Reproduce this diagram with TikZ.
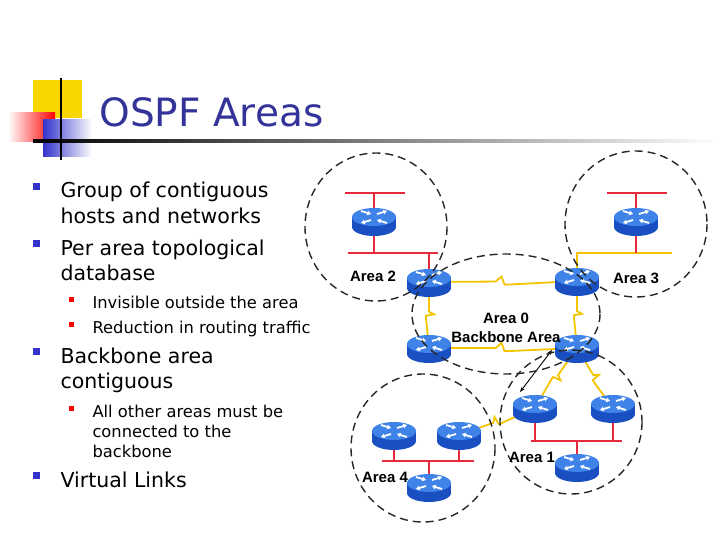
\documentclass[tikz,border=0pt]{standalone}
\usepackage{fontspec}
\setmainfont{DejaVu Sans}
\newfontfamily\arial{Liberation Sans}
\usetikzlibrary{
	positioning,  % posizionamento relativo
	arrows.meta,  % punte di freccia
	calc          % coordinate calcolate
}
\definecolor{titolo}{HTML}{333399}
\definecolor{puntoblu}{HTML}{3333CC}
\definecolor{giallo}{HTML}{F5C400}
\definecolor{rosso}{HTML}{E8283C}
\definecolor{bluchiaro}{HTML}{3F83E8}
\definecolor{bluscuro}{HTML}{1A4FC2}

\begin{document}
\begin{tikzpicture}[
	x=1pt, y=-1pt,
	voce/.style={anchor=base west, font=\fontsize{20.5}{20.5}\selectfont},
	sottovoce/.style={anchor=base west, font=\fontsize{16.3}{16.3}\selectfont},
	area/.style={font=\arial\bfseries\fontsize{15}{15}\selectfont},
	lan/.style={rosso, line width=1.6pt},
	seriale/.style={giallo, line width=1.8pt},
	zig/.style={seriale, to path={
		-- ($(\tikztostart)!0.45!(\tikztotarget)$)
		-- ($(\tikztostart)!0.49!(\tikztotarget)!5pt!90:(\tikztotarget)$)
		-- ($(\tikztostart)!0.51!(\tikztotarget)!-3pt!90:(\tikztotarget)$)
		-- ($(\tikztostart)!0.55!(\tikztotarget)!-3pt!90:(\tikztotarget)$)
		-- (\tikztotarget)}},
	confine/.style={line width=1.4pt, dash pattern=on 8pt off 5pt, black!85},
	router/.pic={
		\fill[bluscuro] (-22,-4) rectangle (22,6);
		\fill[bluscuro] (0,6) ellipse (22 and 9);
		\fill[bluchiaro] (0,-4) ellipse (22 and 9);
		\draw[white, line width=1.8pt, -{Stealth[length=4pt,width=5pt]}] (-13,-10) -- (-3,-7);
		\draw[white, line width=1.8pt, -{Stealth[length=4pt,width=5pt]}] (13,2) -- (3,-1);
		\draw[white, line width=1.8pt, -{Stealth[length=4pt,width=5pt]}] (3,-7) -- (13,-10);
		\draw[white, line width=1.8pt, -{Stealth[length=4pt,width=5pt]}] (-3,-1) -- (-13,2);
	}
	]
	\useasboundingbox (0,0) rectangle (720,540);

	% --- decorazione del titolo ---
	\fill[giallo!70!yellow] (33,80) rectangle (82,118);
	\shade[left color=white, right color=red] (8,113) rectangle (55,142);
	\shade[left color=puntoblu, right color=white] (43,120) rectangle (92,157);
	\shade[left color=black, right color=white] (33,140) rectangle (720,142.5);
	\draw[black, line width=1.5pt] (61,78) -- (61,160);
	\node[anchor=base west, titolo, font=\fontsize{39}{39}\selectfont] (titolo) at (96,127) {OSPF Areas};

	% --- elenco puntato ---
	\foreach \y in {198,255,363,487}
		\fill[puntoblu] (33,\y-8) rectangle ++(7,-7);
	\foreach \y in {308,333,417}
		\fill[red] (69,\y-6) rectangle ++(5,-5);
	\node[voce] (v1) at (57,198) {Group of contiguous};
	\node[voce] (v1b) at (57,223) {hosts and networks};
	\node[voce] (v2) at (57,255) {Per area topological};
	\node[voce] (v2b) at (57,280) {database};
	\node[sottovoce] (s1) at (89,308) {Invisible outside the area};
	\node[sottovoce] (s2) at (89,333) {Reduction in routing traffic};
	\node[voce] (v3) at (57,363) {Backbone area};
	\node[voce] (v3b) at (57,388) {contiguous};
	\node[sottovoce] (s3) at (89,417) {All other areas must be};
	\node[sottovoce] (s3b) at (89,437) {connected to the};
	\node[sottovoce] (s3c) at (89,457) {backbone};
	\node[voce] (v4) at (57,487) {Virtual Links};

	% --- router ---
	\coordinate (r2a) at (374,221);
	\coordinate (r2) at (429,282);
	\coordinate (r3a) at (636,221);
	\coordinate (r3) at (577,281);
	\coordinate (r0) at (429,348);
	\coordinate (r1) at (577,348);
	\coordinate (r1a) at (535,408);
	\coordinate (r1b) at (613,408);
	\coordinate (r1c) at (577,467);
	\coordinate (r4a) at (394,435);
	\coordinate (r4b) at (459,435);
	\coordinate (r4c) at (429,487);

	% --- LAN ---
	\draw[lan] (345,193) -- (405,193);
	\draw[lan] (374,193) -- (r2a);
	\draw[lan] (348,253) -- (438,253);
	\draw[lan] (374,253) -- (r2a);
	\draw[lan] (429,253) -- (r2);
	\draw[lan] (607,193) -- (667,193);
	\draw[lan] (636,193) -- (r3a);
	\draw[seriale] (r3) -- (577,253) -- (672,253);
	\draw[lan] (636,253) -- (r3a);
	\draw[lan] (531,441) -- (622,441);
	\draw[lan] (r1a) -- (535,441);
	\draw[lan] (r1b) -- (613,441);
	\draw[lan] (577,441) -- (r1c);
	\draw[lan] (382,461) -- (474,461);
	\draw[lan] (r4a) -- (394,461);
	\draw[lan] (r4b) -- (459,461);
	\draw[lan] (429,461) -- (r4c);

	% --- collegamenti seriali ---
	\draw[zig] (r2) to (r3);
	\draw[zig] (r2) to (r0);
	\draw[zig] (r0) to (r1);
	\draw[zig] (r3) to (r1);
	\draw[zig] (r1) to (r1a);
	\draw[zig] (r1) to (r1b);
	\draw[zig] (r4b) to (r1a);

	\foreach \r in {r2a,r2,r3a,r3,r0,r1,r1a,r1b,r1c,r4a,r4b,r4c}
		\pic at (\r) {router};

	% --- virtual link ---
	\coordinate (vl1) at (520,392);
	\coordinate (vl2) at (552,350);
	\draw[{Stealth[length=5pt]}-{Stealth[length=5pt]}, line width=0.9pt] (vl1) -- (vl2);

	% --- aree ---
	\draw[confine] (376,227) ellipse (71 and 74);
	\draw[confine] (636,224) ellipse (71 and 73);
	\draw[confine] (506,314) ellipse (94 and 60);
	\draw[confine] (571,422) ellipse (71 and 72);
	\draw[confine] (423,448) ellipse (72 and 74);

	\node[area] (a2) at (373,276) {Area 2};
	\node[area] (a3) at (636,278) {Area 3};
	\node[area] (a0) at (506,318) {Area 0};
	\node[area] (a0b) at (506,337) {Backbone Area};
	\node[area] (a1) at (532,457) {Area 1};
	\node[area] (a4) at (385,477) {Area 4};
\end{tikzpicture}
\end{document}
